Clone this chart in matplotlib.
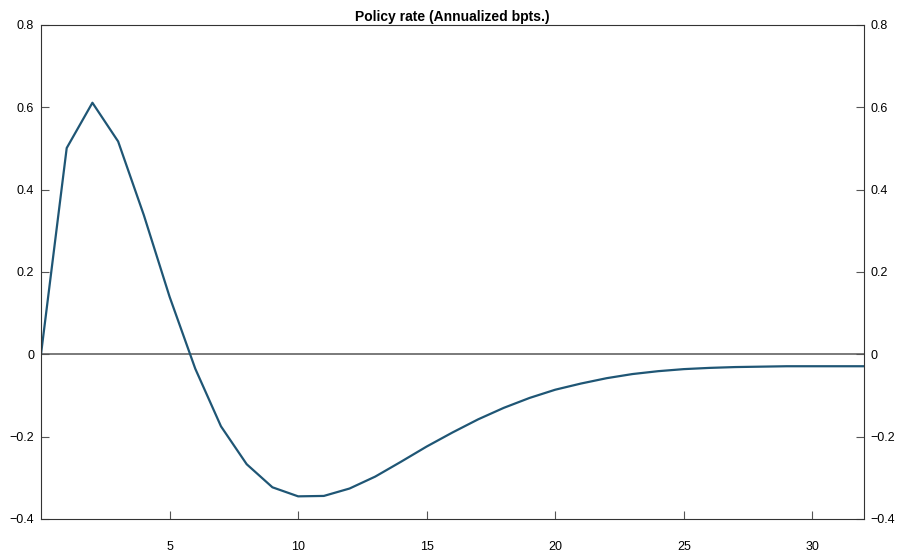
import numpy as np
from matplotlib import pyplot as plt

plt.rcParams['font.family'] = ['Liberation Sans', 'DejaVu Sans']

# impulse response of the policy rate, quarters 0..32
periods = np.arange(0, 33)
policy_rate = [0.0, 0.501, 0.611, 0.517, 0.338, 0.140, -0.035, -0.175, -0.267,
               -0.323, -0.345, -0.344, -0.326, -0.297, -0.261, -0.224, -0.190,
               -0.158, -0.130, -0.106, -0.086, -0.071, -0.058, -0.048, -0.041,
               -0.036, -0.033, -0.031, -0.030, -0.029, -0.029, -0.029, -0.029]

x_ticks = [5, 10, 15, 20, 25, 30]
y_ticks = [-0.4, -0.2, 0, 0.2, 0.4, 0.6, 0.8]
y_labels = ['\u22120.4', '\u22120.2', '0', '0.2', '0.4', '0.6', '0.8']

fig = plt.figure(figsize=(8.97, 5.54), dpi=100)
ax = fig.add_axes([0.0457, 0.0632, 0.9173, 0.8918])

ax.axhline(0, color='#707070', lw=1.3, zorder=1)
ax.plot(periods, policy_rate, color='#1f5675', lw=1.6, zorder=2)

ax.set_xlim(0, 32)
ax.set_ylim(-0.4, 0.8)
ax.set_xticks(x_ticks)
ax.set_xticklabels([str(t) for t in x_ticks])
ax.set_yticks(y_ticks)
ax.set_yticklabels(y_labels)

ax.tick_params(axis='x', direction='in', length=6, width=0.8, colors='#555555',
               labelcolor='black', labelsize=9, pad=16)
ax.tick_params(axis='y', direction='in', length=6, width=0.8, colors='#555555',
               labelcolor='black', labelsize=9, pad=5, left=True, right=True,
               labelleft=True, labelright=True)

for side in ['left', 'right', 'top', 'bottom']:
    ax.spines[side].set_color('#333333')
    ax.spines[side].set_linewidth(0.8)

ax.set_title('Policy rate (Annualized bpts.)', fontsize=10, fontweight='bold', pad=3)

fig.savefig('out.png', dpi=100)
